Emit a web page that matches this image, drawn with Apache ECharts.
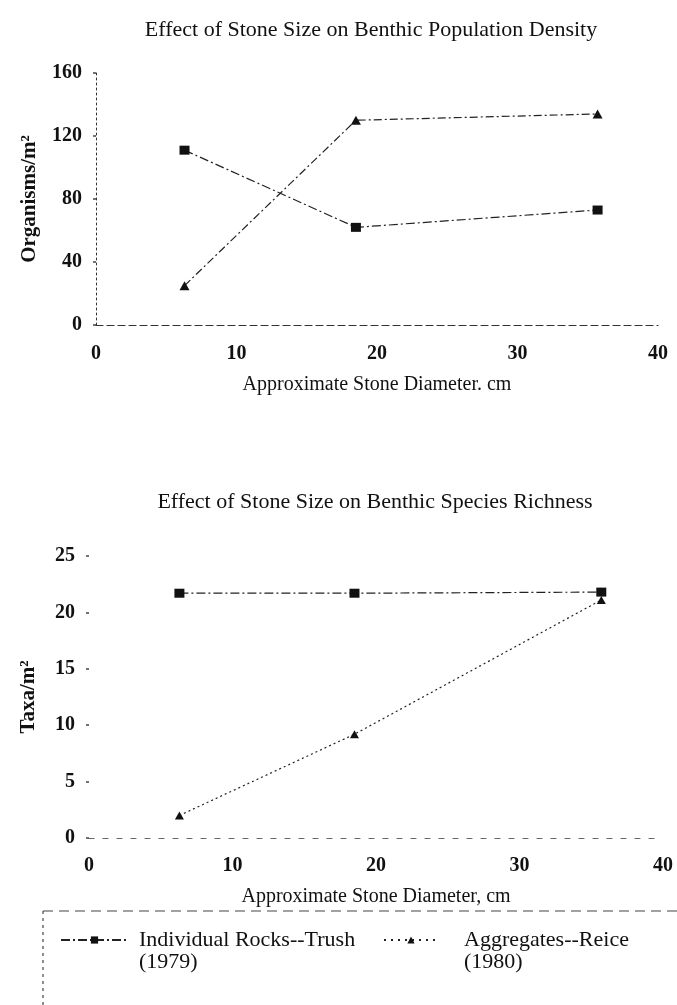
<!DOCTYPE html>
<html>
<head>
<meta charset="utf-8">
<script src="https://cdn.jsdelivr.net/npm/echarts@6/dist/echarts.min.js"></script>
<style>
html,body{margin:0;padding:0;background:#fff;}
#c{width:677px;height:1005px;}
</style>
</head>
<body>
<div id="c"></div>
<script>
// ---- data ----
const stoneDiameter = [6.3, 18.5, 35.7];          // cm
const densityTrush = [111, 62, 73];               // organisms/m2
const densityReice = [25, 130, 134];
const richnessTrush = [21.7, 21.7, 21.8];         // taxa/m2
const richnessReice = [2.0, 9.2, 21.1];
const nameTrush = 'Individual Rocks--Trush\n(1979)';
const nameReice = 'Aggregates--Reice\n(1980)';
const titleTop = 'Effect of Stone Size on Benthic Population Density';
const titleBottom = 'Effect of Stone Size on Benthic Species Richness';

const zip = (xs, ys) => xs.map((x, i) => [x, ys[i]]);
const FONT = '"Liberation Serif", "Times New Roman", serif';
const INK = '#111';

const chart = echarts.init(document.getElementById('c'), null, {renderer: 'canvas'});

function xAxisCfg(gridIndex, name, gap, margin, lineDash, lineColor) {
  return {
    type: 'value', gridIndex, min: 0, max: 40, interval: 10,
    name, nameLocation: 'middle', nameGap: gap,
    nameTextStyle: {fontFamily: FONT, fontSize: 20, color: INK},
    axisLine: {show: true, lineStyle: {color: lineColor, width: 1.2, type: lineDash}},
    axisTick: {show: false},
    splitLine: {show: false},
    axisLabel: {fontFamily: FONT, fontSize: 20, fontWeight: 'bold', color: INK, margin}
  };
}
function yAxisCfg(gridIndex, name, max, interval, gap, showLine) {
  return {
    type: 'value', gridIndex, min: 0, max, interval,
    name, nameLocation: 'middle', nameGap: gap, nameRotate: 90,
    nameTextStyle: {fontFamily: FONT, fontSize: 21, fontWeight: 'bold', color: INK},
    axisLine: {show: showLine, lineStyle: {color: '#333', width: 1, type: [2, 3]}},
    axisTick: {show: true, length: 3, lineStyle: {color: '#444', width: 1.5}},
    splitLine: {show: false},
    axisLabel: {fontFamily: FONT, fontSize: 20, fontWeight: 'bold', color: INK, margin: 14}
  };
}

const lineTrush = {color: '#222', width: 1.2, type: [9, 3, 2, 3]};
const lineReice = {color: '#222', width: 1.2, type: [2, 3]};
const legendText = {fontFamily: FONT, fontSize: 22, color: INK, lineHeight: 22};

chart.setOption({
  backgroundColor: '#fff',
  animation: false,
  title: [
    {text: titleTop, left: 366, top: 14, textAlign: 'center',
     textStyle: {fontFamily: FONT, fontSize: 22, fontWeight: 'normal', color: INK}},
    {text: titleBottom, left: 370, top: 486, textAlign: 'center',
     textStyle: {fontFamily: FONT, fontSize: 22, fontWeight: 'normal', color: INK}}
  ],
  grid: [
    {left: 96, right: 19, top: 73, height: 252, containLabel: false},
    {left: 89, right: 14, top: 556, height: 282, containLabel: false}
  ],
  xAxis: [
    xAxisCfg(0, 'Approximate Stone Diameter. cm', 50, 19, [7, 4], '#333'),
    xAxisCfg(1, 'Approximate Stone Diameter, cm', 49, 18, [5, 9], '#666')
  ],
  yAxis: [
    yAxisCfg(0, 'Organisms/m²', 160, 40, 56, true),
    yAxisCfg(1, 'Taxa/m²', 25, 5, 50, false)
  ],
  legend: [
    {data: [nameTrush], left: 60, top: 907, padding: 0, itemWidth: 67, itemHeight: 9,
     formatter: n => ' \n' + n,
     textStyle: Object.assign({padding: [0, 0, 0, 6]}, legendText)},
    {data: [nameReice], left: 383, top: 907, padding: 0, itemWidth: 54, itemHeight: 9,
     formatter: n => ' \n' + n,
     lineStyle: {type: [2, 5]},
     textStyle: Object.assign({padding: [0, 0, 0, 21]}, legendText)}
  ],
  graphic: [
    {type: 'line', shape: {x1: 43, y1: 911, x2: 677, y2: 911},
     style: {stroke: '#444', lineWidth: 1.2, lineDash: [10, 6]}},
    {type: 'line', shape: {x1: 43, y1: 911, x2: 43, y2: 1005},
     style: {stroke: '#444', lineWidth: 1.2, lineDash: [3, 4]}}
  ],
  series: [
    {name: nameTrush, type: 'line', xAxisIndex: 0, yAxisIndex: 0,
     data: zip(stoneDiameter, densityTrush), symbol: 'rect', symbolSize: [10, 9],
     itemStyle: {color: '#111'}, lineStyle: lineTrush},
    {name: nameReice, type: 'line', xAxisIndex: 0, yAxisIndex: 0,
     data: zip(stoneDiameter, densityReice), symbol: 'triangle', symbolSize: [10, 9],
     itemStyle: {color: '#111'}, lineStyle: {color: '#222', width: 1.2, type: [8, 3, 2, 3]}},
    {name: nameTrush, type: 'line', xAxisIndex: 1, yAxisIndex: 1,
     data: zip(stoneDiameter, richnessTrush), symbol: 'rect', symbolSize: [10, 9],
     itemStyle: {color: '#111'}, lineStyle: lineTrush},
    {name: nameReice, type: 'line', xAxisIndex: 1, yAxisIndex: 1,
     data: zip(stoneDiameter, richnessReice), symbol: 'triangle', symbolSize: [9, 8],
     itemStyle: {color: '#111'}, lineStyle: lineReice}
  ]
});
</script>
</body>
</html>
